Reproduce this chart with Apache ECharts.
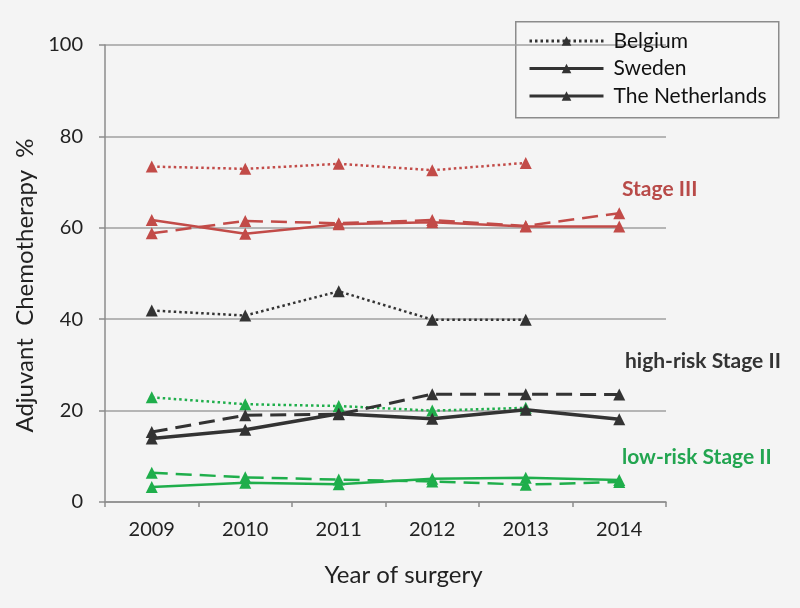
<!DOCTYPE html>
<html>
<head>
<meta charset="utf-8">
<script src="https://cdn.jsdelivr.net/npm/echarts@6/dist/echarts.min.js"></script>
<style>
html,body{margin:0;padding:0;background:#f4f4f4;}
#chart{width:800px;height:608px;}
</style>
</head>
<body>
<div id="chart"></div>
<script>
const years = ['2009','2010','2011','2012','2013','2014'];
const yTicks = [0, 20, 40, 60, 80, 100];

// Stage III
const belgiumStage3 = [73.4, 72.9, 74.0, 72.6, 74.2, null];
const swedenStage3 = [58.8, 61.5, 61.0, 61.7, 60.4, 63.2];
const netherlandsStage3 = [61.7, 58.7, 60.8, 61.2, 60.3, 60.3];

// high-risk Stage II
const belgiumHigh = [41.9, 40.8, 46.1, 39.9, 39.9, null];
const swedenHigh = [15.3, 19.0, 19.2, 23.6, 23.6, 23.5];
const netherlandsHigh = [13.9, 15.8, 19.3, 18.2, 20.2, 18.1];

// low-risk Stage II
const belgiumLow = [22.9, 21.4, 21.0, 20.0, 20.6, null];
const swedenLow = [6.4, 5.4, 4.9, 4.5, 3.8, 4.4];
const netherlandsLow = [3.3, 4.2, 3.9, 5.1, 5.3, 4.8];

const RED = '#c24b48';
const DARK = '#333333';
const GREEN = '#1fae4b';
const FONT = 'Lato';

function mk(name, data, color, kind) {
  let ls;
  if (kind === 'dot') ls = {type: [2.5, 3], width: 2.5};
  else if (kind === 'dash') ls = {type: [16, 8], width: 2.5};
  else ls = {type: 'solid', width: 2.5};
  if (color === DARK && kind === 'solid') ls.width = 3.5;
  if (color === DARK && kind === 'dash') ls.width = 3;
  return {
    name: name,
    type: 'line',
    data: data,
    symbol: 'triangle',
    symbolSize: 12,
    connectNulls: false,
    itemStyle: {color: color},
    lineStyle: Object.assign({color: color}, ls),
    z: color === DARK ? 3 : 2
  };
}

const chart = echarts.init(document.getElementById('chart'));
chart.setOption({
  backgroundColor: '#f4f4f4',
  animation: false,
  grid: {left: 105, right: 134, top: 45, bottom: 106},
  legend: {
    orient: 'vertical',
    left: 528,
    top: 30,
    padding: 0,
    itemWidth: 74,
    itemHeight: 12,
    itemGap: 5.5,
    lineStyle: {width: 3},
    textStyle: {fontFamily: FONT, fontSize: 21, color: '#111', lineHeight: 22, padding: [0, 0, 0, 5]},
    data: [
      {name: 'Belgium', lineStyle: {width: 3}},
      {name: 'Sweden', lineStyle: {type: 'solid', width: 3}},
      {name: 'The Netherlands', lineStyle: {width: 3}}
    ]
  },
  xAxis: {
    type: 'category',
    data: years,
    boundaryGap: true,
    axisLine: {lineStyle: {color: '#8c8c8c', width: 1.5}},
    axisTick: {show: true, length: 5, lineStyle: {color: '#8c8c8c', width: 1.5}},
    axisLabel: {fontFamily: FONT, fontSize: 20, color: '#222', margin: 18},
    name: 'Year of surgery',
    nameLocation: 'middle',
    nameGap: 61,
    nameTextStyle: {fontFamily: FONT, fontSize: 24, color: '#222', padding: [0, 0, 0, 36]}
  },
  yAxis: {
    type: 'value',
    min: yTicks[0],
    max: yTicks[yTicks.length - 1],
    interval: 20,
    axisLine: {show: true, lineStyle: {color: '#8c8c8c', width: 1.5}},
    axisTick: {show: true, length: 6, lineStyle: {color: '#8c8c8c', width: 1.5}},
    splitLine: {lineStyle: {color: '#a0a0a0', width: 1.5}},
    axisLabel: {fontFamily: FONT, fontSize: 20, color: '#222', margin: 22},
    name: 'Adjuvant  Chemotherapy  %',
    nameLocation: 'middle',
    nameGap: 47,
    nameTextStyle: {fontFamily: FONT, fontSize: 24, color: '#222', padding: [0, 24, 0, 0]}
  },
  graphic: [
    {type: 'rect', left: 515, top: 21, shape: {width: 263, height: 96},
     style: {fill: '#f6f6f6', stroke: '#8c8c8c', lineWidth: 1.5}, z: -1},
    {type: 'text', left: 622, top: 179, style: {text: 'Stage III', fill: '#b84a48', font: 'bold 21px Lato'}},
    {type: 'text', left: 625, top: 351, style: {text: 'high-risk Stage II', fill: '#333', font: 'bold 21px Lato'}},
    {type: 'text', left: 622, top: 447, style: {text: 'low-risk Stage II', fill: '#22a550', font: 'bold 21px Lato'}}
  ],
  series: [
    mk('Belgium Stage III', belgiumStage3, RED, 'dot'),
    mk('Sweden Stage III', swedenStage3, RED, 'dash'),
    mk('The Netherlands Stage III', netherlandsStage3, RED, 'solid'),
    mk('Belgium low-risk', belgiumLow, GREEN, 'dot'),
    mk('Sweden low-risk', swedenLow, GREEN, 'dash'),
    mk('The Netherlands low-risk', netherlandsLow, GREEN, 'solid'),
    mk('Belgium', belgiumHigh, DARK, 'dot'),
    mk('Sweden', swedenHigh, DARK, 'dash'),
    mk('The Netherlands', netherlandsHigh, DARK, 'solid')
  ]
});
</script>
</body>
</html>
